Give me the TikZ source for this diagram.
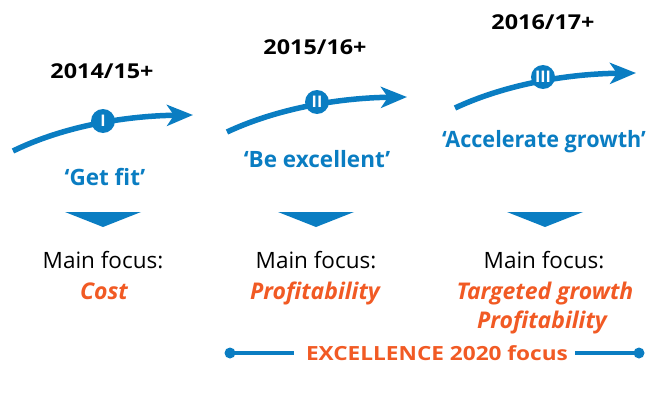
\documentclass[tikz,border=0pt]{standalone}
\usepackage{graphicx}
\usepackage{fontspec}
\setmainfont{Open Sans}
\usetikzlibrary{arrows.meta}
\definecolor{cblue}{HTML}{0A7DC2}
\definecolor{corange}{HTML}{F15A24}
\newcommand\hsc[2]{\scalebox{#1}[1]{#2}}
\tikzset{
  x=1pt, y=-1pt,
  year/.style={font=\fontsize{20.5}{23}\selectfont\bfseries, text=black, inner sep=0, anchor=base},
  motto/.style={font=\fontsize{22.5}{26}\selectfont\bfseries, text=cblue, inner sep=0, anchor=base},
  focus/.style={font=\fontsize{22.5}{26}\selectfont, text=black, inner sep=0, anchor=base},
  goal/.style={font=\fontsize{23}{26}\selectfont\bfseries\itshape, text=corange, inner sep=0, anchor=base},
  banner/.style={font=\fontsize{19.5}{22}\selectfont\bfseries, text=corange, inner sep=0, anchor=base},
  path arrow/.style={draw=cblue, line width=5.5pt, -{Stealth[length=26pt,width=21pt,inset=7pt]}},
  stage/.style={circle, fill=cblue, minimum size=24pt, inner sep=0, text=white, font=\fontsize{16}{16}\selectfont\bfseries},
  bar/.style={draw=cblue, line width=4.5pt},
  dot/.style={circle, fill=cblue, minimum size=11pt, inner sep=0},
}
\begin{document}
\begin{tikzpicture}
\useasboundingbox (0,0) rectangle (664,412);
% group 1
\node[year] (y1) at (102,78) {\hsc{1.14}{2014/15+}};
\coordinate (s1) at (13,151);
\coordinate (e1) at (193,115);
\draw[path arrow] (s1) .. controls (60,128) and (120,116) .. (e1);
\node[stage] (c1) at (103,121) {I};
\node[motto] (m1) at (105,185) {‘Get fit’};
\fill[cblue] (65,212) -- (141,212) -- (103,227) -- cycle;
\node[focus] (f1) at (103,268) {Main focus:};
\node[goal] (g1) at (104,299) {Cost};
% group 2
\node[year] (y2) at (315,55) {\hsc{1.14}{2015/16+}};
\coordinate (s2) at (227,132);
\coordinate (e2) at (407,97);
\draw[path arrow] (s2) .. controls (274,110) and (334,98) .. (e2);
\node[stage] (c2) at (317,102) {II};
\node[motto] (m2) at (317,167) {‘Be excellent’};
\fill[cblue] (278,212) -- (354,212) -- (316,227) -- cycle;
\node[focus] (f2) at (316,268) {Main focus:};
\node[goal] (g2) at (315,299) {Profitability};
% group 3
\node[year] (y3) at (543,30) {\hsc{1.14}{2016/17+}};
\coordinate (s3) at (455,108);
\coordinate (e3) at (636,73);
\draw[path arrow] (s3) .. controls (502,86) and (562,74) .. (e3);
\node[stage] (c3) at (543,77) {III};
\node[motto] (m3) at (544,147) {\hsc{0.96}{‘Accelerate growth’}};
\fill[cblue] (507,212) -- (583,212) -- (545,227) -- cycle;
\node[focus] (f3) at (544,268) {Main focus:};
\node[goal] (g3) at (545,299) {Targeted growth};
\node[goal] (g4) at (542,328) {Profitability};
% bottom
\node[dot] (dl) at (230,353) {};
\node[dot] (dr) at (639,353) {};
\node[banner] (ex) at (437,360) {\hsc{1.16}{EXCELLENCE 2020 focus}};
\draw[bar] (dl.center) -- ([xshift=-12pt]ex.west |- dl.center);
\draw[bar] ([xshift=7pt]ex.east |- dr.center) -- (dr.center);
\end{tikzpicture}
\end{document}
